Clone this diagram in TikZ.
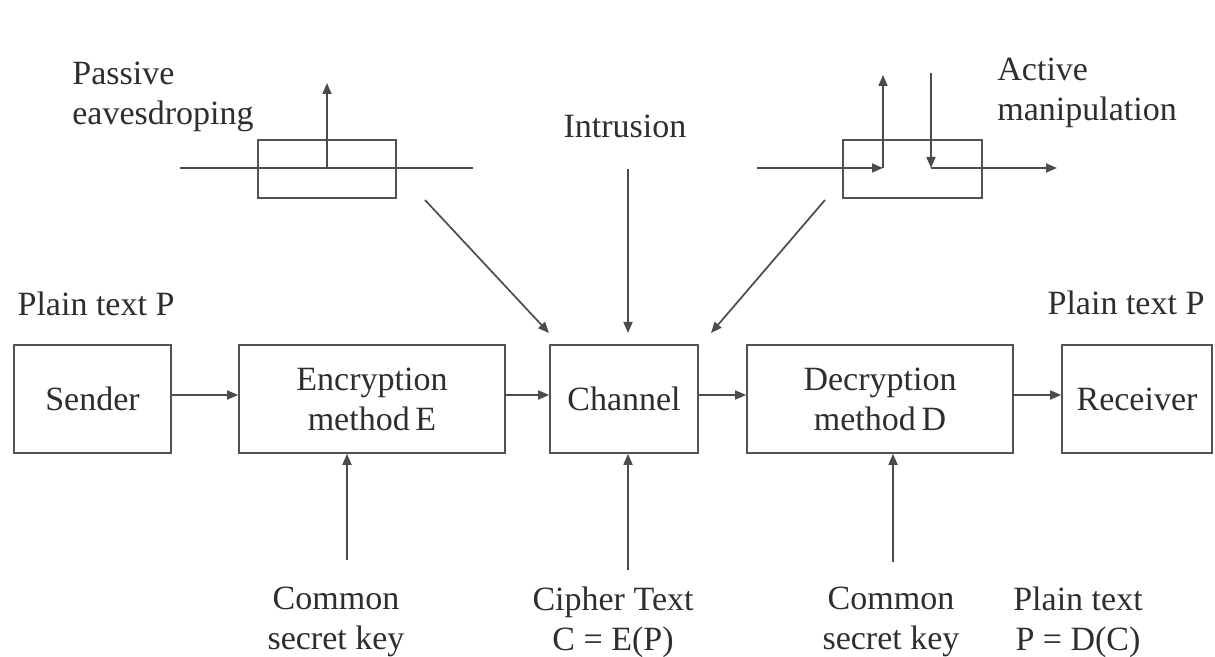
\documentclass[tikz,border=0pt]{standalone}
\usepackage{fontspec}
\setmainfont{Liberation Serif}
\usetikzlibrary{arrows.meta}
\begin{document}
\begin{tikzpicture}[x=0.5pt,y=-0.5pt,
  every node/.style={text=black!82, font=\fontsize{17}{20}\selectfont},
  box/.style={draw=black!68, line width=0.8pt, inner sep=0pt, align=center},
  lbl/.style={inner sep=0pt},
  wire/.style={draw=black!70, line width=0.85pt},
  arr/.style={wire, -{Triangle[length=5.5pt,width=4.5pt]}}]
\fill[white] (0,0) rectangle (1215,657);
\useasboundingbox (0,0) rectangle (1215,657);

% main chain of blocks
\node[box, minimum width=78.5pt, minimum height=54pt] (sender) at (92.5,399) {Sender};
\node[box, minimum width=133pt,  minimum height=54pt] (enc)    at (372,399)  {Encryption\\method\,E};
\node[box, minimum width=74pt,   minimum height=54pt] (chan)   at (624,399)  {Channel};
\node[box, minimum width=133pt,  minimum height=54pt] (dec)    at (880,399)  {Decryption\\method\,D};
\node[box, minimum width=75pt,   minimum height=54pt] (recv)   at (1137,399) {Receiver};

% tap boxes on the line
\node[box, minimum width=69pt,   minimum height=29pt] (pbox) at (327,169) {};
\node[box, minimum width=69.5pt, minimum height=29pt] (abox) at (912.5,169) {};

% labels
\node[lbl, anchor=base] (ptl) at (96,316) {Plain text P};
\node[lbl, anchor=base] (ptr) at (1126,315) {Plain text P};
\node[lbl, anchor=north west, align=left] (pass) at (72,61.5) {Passive\\eavesdroping};
\node[lbl, anchor=north west, align=left] (act) at (997,58) {Active\\manipulation};
\node[lbl, anchor=base] (intr) at (625,138) {Intrusion};
\node[lbl, anchor=north, align=center] (keyE) at (336,587) {Common\\secret key};
\node[lbl, anchor=north, align=center] (ciph) at (613,587) {Cipher Text\\C = E(P)};
\node[lbl, anchor=north, align=center] (keyD) at (891,587) {Common\\secret key};
\node[lbl, anchor=north, align=center] (ptD)  at (1078,587) {Plain text\\P = D(C)};

% main flow
\draw[arr] ([yshift=2pt]sender.east) -- ([yshift=2pt]enc.west);
\draw[arr] ([yshift=2pt]enc.east) -- ([yshift=2pt]chan.west);
\draw[arr] ([yshift=2pt]chan.east) -- ([yshift=2pt]dec.west);
\draw[arr] ([yshift=2pt]dec.east) -- ([yshift=2pt]recv.west);

% passive eavesdropping
\coordinate (pL) at (180,168);
\coordinate (pR) at (473,168);
\coordinate (pO) at (327,168);
\coordinate (pT) at (327,83);
\draw[wire] (pL) -- (pR);
\draw[arr] (pO) -- (pT);

% active manipulation
\coordinate (aL)  at (757,168);
\coordinate (aC1) at (883,168);
\coordinate (aT1) at (883,75);
\coordinate (aT2) at (931,73);
\coordinate (aC2) at (931,168);
\coordinate (aR)  at (1057,168);
\draw[arr] (aL) -- (aC1);
\draw[arr] (aC1) -- (aT1);
\draw[arr] (aT2) -- (aC2);
\draw[arr] (aC2) -- (aR);

% attacks converging on the channel
\coordinate (dP)  at (425,200);
\coordinate (dPe) at (549,333);
\coordinate (dA)  at (825,200);
\coordinate (dAe) at (711,333);
\coordinate (iT)  at (628,169);
\coordinate (iB)  at (628,333);
\draw[arr] (dP) -- (dPe);
\draw[arr] (dA) -- (dAe);
\draw[arr] (iT) -- (iB);

% keys and texts feeding the blocks
\coordinate (kE) at (347,560);
\coordinate (kC) at (628,570);
\coordinate (kD) at (893,562);
\draw[arr] (kE) -- (kE |- enc.south);
\draw[arr] (kC) -- (kC |- chan.south);
\draw[arr] (kD) -- (kD |- dec.south);
\end{tikzpicture}
\end{document}
